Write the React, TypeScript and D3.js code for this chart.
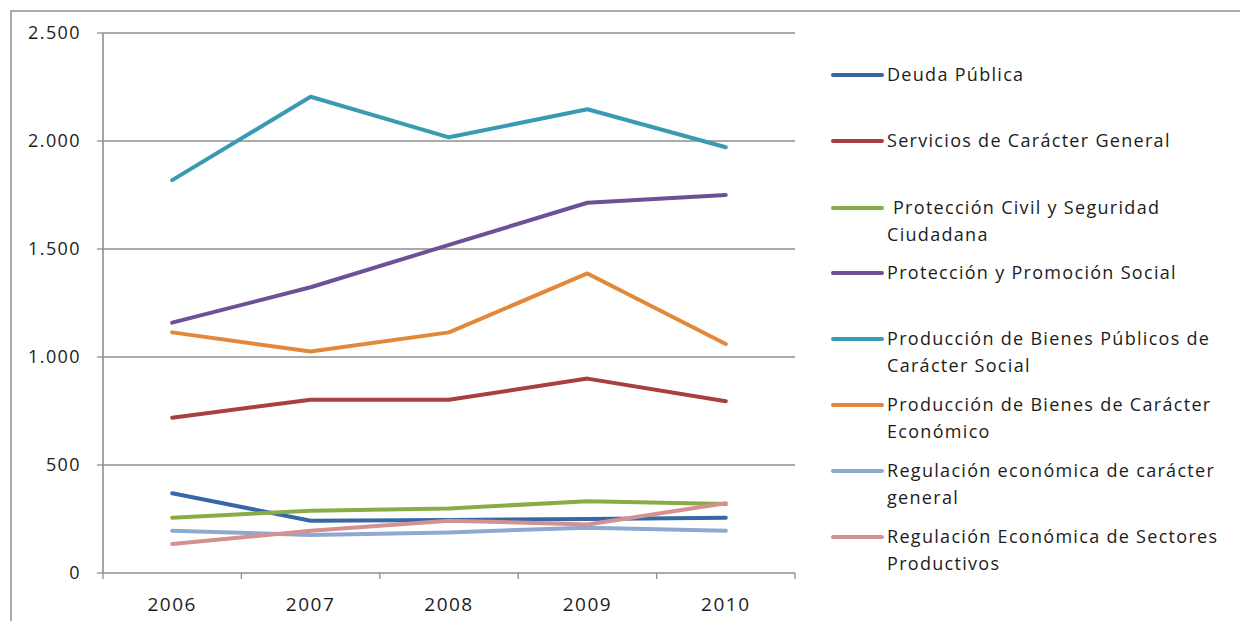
import React from "react";
import * as d3 from "d3";

const years = ["2006", "2007", "2008", "2009", "2010"];
const yTicks = [0, 500, 1000, 1500, 2000, 2500];

const deudaPublica = [369, 242, 245, 250, 256];
const serviciosGeneral = [719, 802, 802, 900, 795];
const proteccionCivil = [256, 288, 299, 332, 319];
const proteccionSocial = [1159, 1323, 1519, 1714, 1750];
const bienesPublicosSocial = [1819, 2205, 2017, 2147, 1971];
const bienesEconomico = [1114, 1025, 1114, 1387, 1060];
const regulacionGeneral = [196, 176, 188, 210, 196];
const regulacionSectores = [134, 196, 242, 225, 323];

const seriesNames = [
  ["Deuda Pública"],
  ["Servicios de Carácter General"],
  [" Protección Civil y Seguridad", "Ciudadana"],
  ["Protección y Promoción Social"],
  ["Producción de Bienes Públicos de", "Carácter Social"],
  ["Producción de Bienes de Carácter", "Económico"],
  ["Regulación económica de carácter", "general"],
  ["Regulación Económica de Sectores", "Productivos"],
];
const seriesValues = [
  deudaPublica,
  serviciosGeneral,
  proteccionCivil,
  proteccionSocial,
  bienesPublicosSocial,
  bienesEconomico,
  regulacionGeneral,
  regulacionSectores,
];
const colors = ["#3768A6", "#A8403F", "#8AAC46", "#6D5196", "#3A9AB3", "#E3883A", "#8EA8D0", "#D39192"];
const legendY = [75, 141, 208, 273, 339, 405, 471, 537];

const fmt = (v: number) => d3.format(",")(v).replace(/,/g, ".");

export default function App() {
  const left = 103, right = 795, top = 33, bottom = 573;
  const x = d3.scaleBand<string>().domain(years).range([left, right]);
  const y = d3.scaleLinear().domain([0, 2500]).range([bottom, top]);
  const line = d3
    .line<number>()
    .x((_, i) => (x(years[i]) as number) + x.bandwidth() / 2)
    .y((d) => y(d));
  const font = "'Open Sans', 'DejaVu Sans', sans-serif";
  const textColor = "#1c1c1c";
  const gridColor = "#8E8E8E";
  return (
    <svg width={1240} height={621} style={{ position: "absolute", left: 0, top: 0 }}>
      <rect x={0} y={0} width={1240} height={621} fill="#fff" />
      <rect x={11} y={11} width={1240} height={640} fill="none" stroke="#8E8E8E" strokeWidth={1.5} />
      {yTicks.map((t) => (
        <g key={t}>
          {t > 0 && <line x1={left} x2={right} y1={y(t)} y2={y(t)} stroke={gridColor} strokeWidth={1.3} />}
          <line x1={left - 6} x2={left} y1={y(t)} y2={y(t)} stroke={gridColor} strokeWidth={1.3} />
          <text x={81} y={y(t)} dy="0.35em" textAnchor="end" fontFamily={font} fontSize={18} letterSpacing={1.4} fill={textColor}>
            {fmt(t)}
          </text>
        </g>
      ))}
      <line x1={left} x2={left} y1={top} y2={bottom} stroke={gridColor} strokeWidth={1.6} />
      <line x1={left} x2={right} y1={bottom} y2={bottom} stroke={gridColor} strokeWidth={1.6} />
      {[...years.map((yr) => x(yr) as number), right].map((tx, i) => (
        <line key={i} x1={tx} x2={tx} y1={bottom} y2={bottom + 6} stroke={gridColor} strokeWidth={1.3} />
      ))}
      {years.map((yr) => (
        <text key={yr} x={(x(yr) as number) + x.bandwidth() / 2} y={604} dy="0.35em" textAnchor="middle" fontFamily={font} fontSize={19} letterSpacing={1.5} fill={textColor}>
          {yr}
        </text>
      ))}
      {seriesValues.map((vals, i) => (
        <path key={i} d={line(vals) as string} fill="none" stroke={colors[i]} strokeWidth={4} strokeLinejoin="round" strokeLinecap="round" />
      ))}
      {seriesNames.map((lines, i) => (
        <g key={i}>
          <line x1={833} x2={882} y1={legendY[i]} y2={legendY[i]} stroke={colors[i]} strokeWidth={4} strokeLinecap="round" />
          {lines.map((l, j) => (
            <text key={j} x={887} y={legendY[i] + j * 27} dy="0.35em" fontFamily={font} fontSize={18} letterSpacing={1.3} fill={textColor} style={{ whiteSpace: "pre" }}>
              {l}
            </text>
          ))}
        </g>
      ))}
    </svg>
  );
}
